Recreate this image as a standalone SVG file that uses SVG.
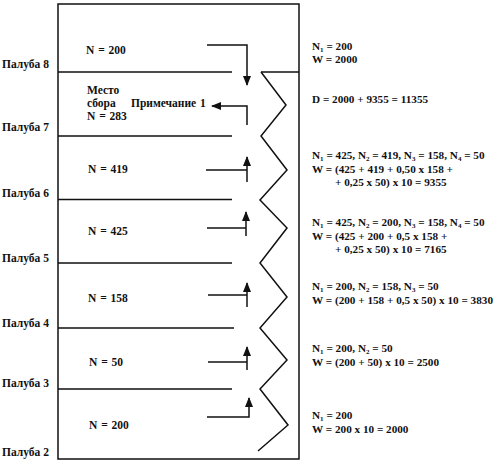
<svg xmlns="http://www.w3.org/2000/svg" width="497" height="466" viewBox="0 0 497 466">
<style>
text{font-family:"Liberation Serif","Times New Roman",serif;font-weight:bold;font-size:11px;fill:#111}
.lbl{font-size:11.5px}
.n{font-size:11.5px;word-spacing:1px}
.c{font-size:11.2px}
.s{font-size:7px}
.ln{stroke:#111;stroke-width:1.5;fill:none}
.ar{stroke:#111;stroke-width:1.5;fill:none;marker-end:url(#ah)}
</style>
<defs>
<marker id="ah" viewBox="0 0 10 8" refX="9" refY="4" markerWidth="10" markerHeight="8" markerUnits="userSpaceOnUse" orient="auto">
<path d="M0,0 L10,4 L0,8 z" fill="#111"/>
</marker>
</defs>
<rect width="497" height="466" fill="#fff"/>
<g id="frame">
<path class="ln" d="M58,4 H299 V459 H58 Z"/>
<path class="ln" d="M58,72 H232 M261,72 H299 M58,136 H232 M58,199.5 H232 M58,263 H232 M58,328 H234 M58,389 H232"/>
<path class="ln" d="M261,72 L286,105 L261,136 L287,170 L260,200 L287,228 L260,263 L287,297 L260,328 L287,360 L260,389 L288,425 L258,451"/>
</g>
<g id="deck-labels">
<text class="lbl" x="2" y="68">Палуба 8</text>
<text class="lbl" x="2" y="131">Палуба 7</text>
<text class="lbl" x="2" y="197">Палуба 6</text>
<text class="lbl" x="2" y="262">Палуба 5</text>
<text class="lbl" x="2" y="327">Палуба 4</text>
<text class="lbl" x="2" y="387">Палуба 3</text>
<text class="lbl" x="2" y="456">Палуба 2</text>
</g>
<g id="deck8"><text class="n" x="86" y="54">N = 200</text></g>
<g id="deck7">
<text class="n" x="87" y="94">Место</text>
<text class="n" x="87" y="107">сбора</text>
<text class="n" x="131" y="107">Примечание 1</text>
<text class="n" x="87" y="120">N = 283</text>
</g>
<g id="deck6"><text class="n" x="88" y="173">N = 419</text></g>
<g id="deck5"><text class="n" x="88" y="235">N = 425</text></g>
<g id="deck4"><text class="n" x="88" y="302">N = 158</text></g>
<g id="deck3"><text class="n" x="89" y="366">N = 50</text></g>
<g id="deck2"><text class="n" x="89" y="429">N = 200</text></g>
<g id="connectors">
<path class="ar" d="M207,45 H247 V85"/>
<path class="ar" d="M247,125 V106 H212"/>
<path class="ln" d="M206,170 H247"/><path class="ar" d="M247,182 V157"/>
<path class="ln" d="M207,228 H246"/><path class="ar" d="M246,236 V212"/>
<path class="ln" d="M208,295 H247"/><path class="ar" d="M247,307 V283"/>
<path class="ln" d="M208,362 H247"/><path class="ar" d="M247,370 V347"/>
<path class="ar" d="M207,417 H249 V398"/>
</g>
<g id="calc">
<text class="c" x="312" y="50">N<tspan class="s" dy="1.5">1</tspan><tspan dy="-1.5"> = 200</tspan></text>
<text class="c" x="312" y="63">W = 2000</text>
<text class="c" x="312" y="103">D = 2000 + 9355 = 11355</text>
<text class="c" x="312" y="159">N<tspan class="s" dy="1.5">1</tspan><tspan dy="-1.5"> = 425, N</tspan><tspan class="s" dy="1.5">2</tspan><tspan dy="-1.5"> = 419, N</tspan><tspan class="s" dy="1.5">3</tspan><tspan dy="-1.5"> = 158, N</tspan><tspan class="s" dy="1.5">4</tspan><tspan dy="-1.5"> = 50</tspan></text>
<text class="c" x="312" y="173">W = (425 + 419 + 0,50 x 158 +</text>
<text class="c" x="335" y="186">+ 0,25 x 50) x 10 = 9355</text>
<text class="c" x="312" y="226">N<tspan class="s" dy="1.5">1</tspan><tspan dy="-1.5"> = 425, N</tspan><tspan class="s" dy="1.5">2</tspan><tspan dy="-1.5"> = 200, N</tspan><tspan class="s" dy="1.5">3</tspan><tspan dy="-1.5"> = 158, N</tspan><tspan class="s" dy="1.5">4</tspan><tspan dy="-1.5"> = 50</tspan></text>
<text class="c" x="312" y="240">W = (425 + 200 + 0,5 x 158 +</text>
<text class="c" x="335" y="253">+ 0,25 x 50) x 10 = 7165</text>
<text class="c" x="312" y="290">N<tspan class="s" dy="1.5">1</tspan><tspan dy="-1.5"> = 200, N</tspan><tspan class="s" dy="1.5">2</tspan><tspan dy="-1.5"> = 158, N</tspan><tspan class="s" dy="1.5">3</tspan><tspan dy="-1.5"> = 50</tspan></text>
<text class="c" x="312" y="304">W = (200 + 158 + 0,5 x 50) x 10 = 3830</text>
<text class="c" x="312" y="352">N<tspan class="s" dy="1.5">1</tspan><tspan dy="-1.5"> = 200, N</tspan><tspan class="s" dy="1.5">2</tspan><tspan dy="-1.5"> = 50</tspan></text>
<text class="c" x="312" y="366">W = (200 + 50) x 10 = 2500</text>
<text class="c" x="312" y="419">N<tspan class="s" dy="1.5">1</tspan><tspan dy="-1.5"> = 200</tspan></text>
<text class="c" x="312" y="433">W = 200 x 10 = 2000</text>
</g>
</svg>
